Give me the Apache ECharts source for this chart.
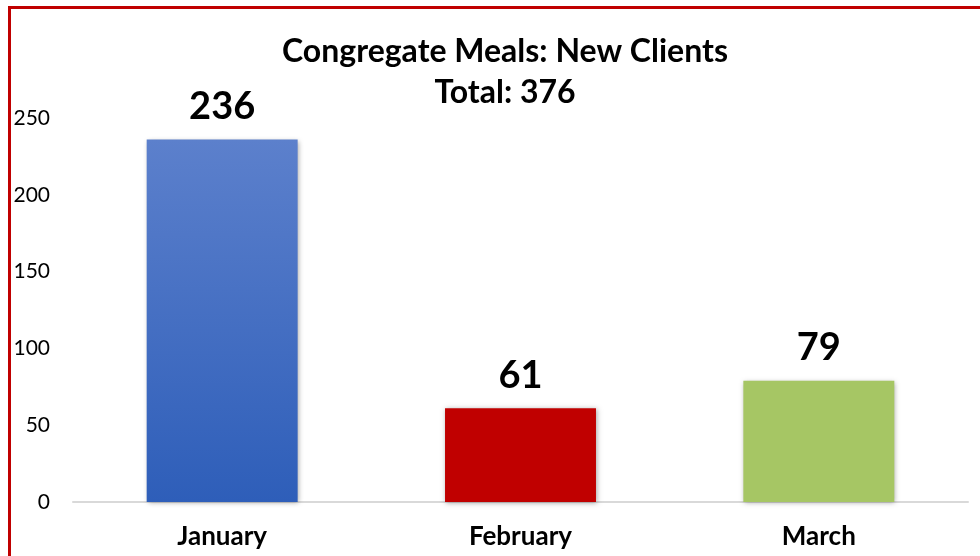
<!DOCTYPE html>
<html>
<head>
<meta charset="utf-8">
<script src="https://cdn.jsdelivr.net/npm/echarts@6/dist/echarts.min.js"></script>
<style>
  html, body { margin: 0; padding: 0; background: #fff; }
  #chart { width: 980px; height: 556px; }
</style>
</head>
<body>
<div id="chart"></div>
<script>
var months = ['January', 'February', 'March'];
var newClients = [236, 61, 79];
var yTicks = [0, 50, 100, 150, 200, 250];

var chart = echarts.init(document.getElementById('chart'));

// bar colours: blue has a light-to-dark fade
var barColors = [
  new echarts.graphic.LinearGradient(0, 0, 0, 1, [
    { offset: 0, color: '#5c80cc' },
    { offset: 1, color: '#2e5eb9' }
  ]),
  '#c00000',
  '#a6c664'
];

var option = {
  backgroundColor: '#fff',
  textStyle: { fontFamily: 'Lato' },
  title: {
    text: 'Congregate Meals: New Clients\nTotal: 376',
    left: 500,
    top: 26,
    textAlign: 'center',
    textStyle: {
      fontFamily: 'Lato',
      fontWeight: 'bold',
      fontSize: 32,
      lineHeight: 41,
      color: '#000'
    }
  },
  graphic: [
    { type: 'rect', shape: { x: 8, y: 6, width: 980, height: 3 }, style: { fill: '#c00000' } },
    { type: 'rect', shape: { x: 8, y: 6, width: 3, height: 560 }, style: { fill: '#c00000' } }
  ],
  grid: {
    left: 73,
    right: 12,
    top: 118,
    bottom: 54
  },
  xAxis: {
    type: 'category',
    data: months,
    axisLine: { lineStyle: { color: '#d9d9d9', width: 2 } },
    axisTick: { show: false },
    axisLabel: {
      margin: 22,
      fontFamily: 'Lato',
      fontWeight: 'bold',
      fontSize: 26,
      color: '#000'
    }
  },
  yAxis: {
    type: 'value',
    min: yTicks[0],
    max: yTicks[yTicks.length - 1],
    interval: 50,
    axisLine: { show: false },
    axisTick: { show: false },
    splitLine: { show: false },
    axisLabel: {
      margin: 23,
      fontFamily: 'Lato',
      fontSize: 21,
      color: '#000'
    }
  },
  series: [
    {
      type: 'bar',
      barWidth: '50.6%',
      data: newClients.map(function (v, i) {
        return { value: v, itemStyle: { color: barColors[i] } };
      }),
      itemStyle: {
        shadowColor: 'rgba(0,0,0,0.35)',
        shadowBlur: 5,
        shadowOffsetX: 1,
        shadowOffsetY: 1
      },
      label: {
        show: true,
        position: 'top',
        distance: 14,
        fontFamily: 'Lato',
        fontWeight: 'bold',
        fontSize: 38,
        color: '#000'
      }
    }
  ]
};

chart.setOption(option);
</script>
</body>
</html>
